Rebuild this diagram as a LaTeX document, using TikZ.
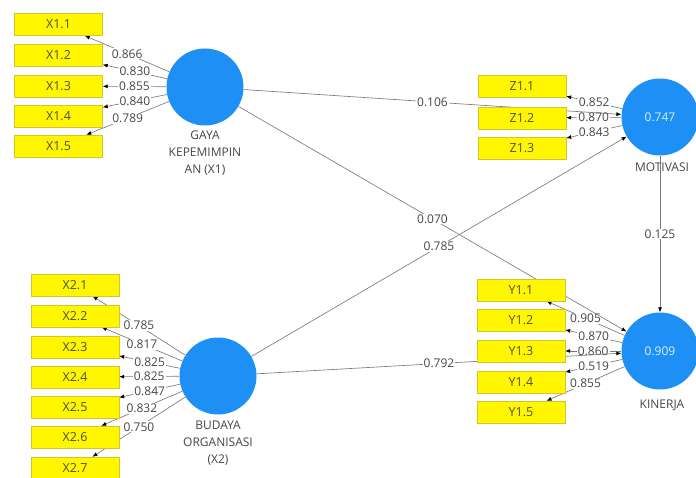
\documentclass[tikz,border=0pt]{standalone}
\usepackage{fontspec}
\setmainfont{Open Sans}
\usetikzlibrary{positioning,arrows.meta}
\definecolor{plsblue}{RGB}{30,144,245}
\definecolor{indyel}{RGB}{255,246,0}
\definecolor{indedge}{RGB}{210,198,40}
\definecolor{lblgray}{RGB}{70,70,70}
\pgfdeclarelayer{bg}
\pgfsetlayers{bg,main}

\begin{document}
\begin{tikzpicture}[x=1pt,y=-1pt,>={Latex[length=5pt,width=4pt,black]},
    font=\fontsize{12}{14}\selectfont,
    ind/.style={draw=indedge,fill=indyel,minimum width=88pt,minimum height=22pt,inner sep=0pt,
      text=lblgray!85!olive,font=\fontsize{12.5}{14}\selectfont},
    lat/.style={circle,fill=plsblue,minimum size=77pt,inner sep=0pt,text=white!85!plsblue},
    latcap/.style={align=center,text=lblgray,inner sep=0pt,font=\fontsize{12}{17}\selectfont},
    ln/.style={draw=gray!95!black,line width=0.65pt,->},
    ld/.style={fill=white,inner sep=1pt,text=lblgray}]
  \useasboundingbox (0,0) rectangle (696,478);

  % latent variables
  \node[lat] (gaya) at (205,87) {};
  \node[lat] (bud) at (218,376) {};
  \node[lat] (mot) at (660,117) {0.747};
  \node[lat] (kin) at (660,351) {0.909};
  \node[latcap,below=5pt of gaya] (gayacap) {GAYA\\KEPEMIMPIN\\AN (X1)};
  \node[latcap,below=6pt of bud] (budcap) {BUDAYA\\ORGANISASI\\(X2)};
  \node[latcap,below=7pt of mot,xshift=2pt] (motcap) {MOTIVASI};
  \node[latcap,below=10pt of kin,xshift=2pt] (kincap) {KINERJA};

  % indicators
  \foreach \i/\y in {1/24.5,2/55,3/86,4/116,5/146}
    \node[ind] (x1\i) at (58.5,\y) {X1.\i};
  \foreach \i/\y in {1/285,2/316,3/347,4/377,5/407,6/437,7/468}
    \node[ind] (x2\i) at (75,\y) {X2.\i};
  \foreach \i/\y in {1/86.5,2/118,3/148}
    \node[ind] (z1\i) at (522,\y) {Z1.\i};
  \foreach \i/\y in {1/290,2/320,3/351,4/382,5/412}
    \node[ind] (y1\i) at (521,\y) {Y1.\i};

  \begin{pgfonlayer}{bg}
    % outer loadings
    \foreach \i/\v in {1/0.866,2/0.830,3/0.855,4/0.840,5/0.789}
      \draw[ln] (gaya) -- node[ld]{\v} (x1\i);
    \foreach \i/\v in {1/0.785,2/0.817,3/0.825,4/0.825,5/0.847,6/0.832,7/0.750}
      \draw[ln] (bud) -- node[ld]{\v} (x2\i);
    \foreach \i/\v in {1/0.852,2/0.870,3/0.843}
      \draw[ln] (mot) -- node[ld]{\v} (z1\i);
    \foreach \i/\v in {1/0.905,2/0.870,3/0.860,4/0.519,5/0.855}
      \draw[ln] (kin) -- node[ld]{\v} (y1\i);
    % path coefficients
    \draw[ln] (gaya) -- node[ld]{0.106} (mot);
    \draw[ln] (gaya) -- node[ld]{0.070} (kin);
    \draw[ln] (bud) -- node[ld]{0.785} (mot);
    \draw[ln] (bud) -- node[ld]{0.792} (kin);
    \draw[ln] (mot) -- node[ld]{0.125} (kin);
  \end{pgfonlayer}
\end{tikzpicture}
\end{document}
